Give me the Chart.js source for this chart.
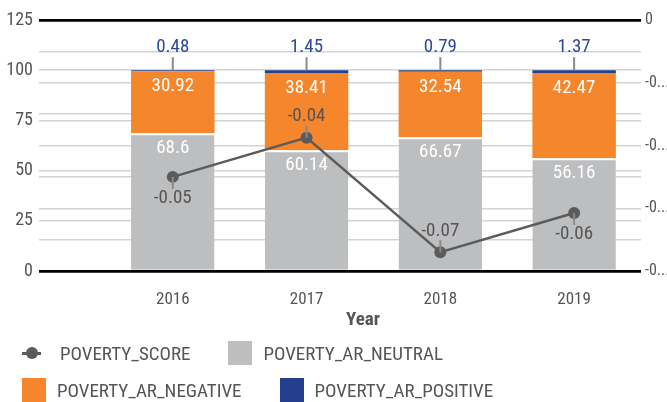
<!DOCTYPE html>
<html>
<head>
<meta charset="utf-8">
<script src="https://cdn.jsdelivr.net/npm/chart.js@4"></script>
<style>
  body { margin: 0; background: #fff; overflow: hidden; }
  #wrap { position: relative; width: 667px; height: 402px; }
  #legend {
    position: absolute; left: 22px; top: 341px; width: 620px;
    font-family: 'Liberation Sans Narrow', 'Roboto Condensed', 'Arial Narrow', Roboto, sans-serif;
    font-size: 19px; color: #555;
  }
  .row { display: flex; column-gap: 38px; height: 24px; margin-bottom: 13px; }
  .item { display: flex; align-items: center; height: 24px; }
  .box { width: 24px; height: 24px; margin-right: 11px; }
  .mark { position: relative; width: 19px; height: 24px; margin-right: 19px; }
  .mark:before { content: ''; position: absolute; left: 0; right: 0; top: 11px; height: 2.5px; background: #5b5b5b; }
  .mark:after { content: ''; position: absolute; left: 4px; top: 6px; width: 12px; height: 12px; border-radius: 50%; background: #5b5b5b; }
</style>
</head>
<body>
<div id="wrap">
  <canvas id="chart" width="667" height="402"></canvas>
  <div id="legend"></div>
</div>
<script>
// Données
const years = [2016, 2017, 2018, 2019];
const arNeutral = [68.6, 60.14, 66.67, 56.16];
const arNegative = [30.92, 38.41, 32.54, 42.47];
const arPositive = [0.48, 1.45, 0.79, 1.37];
const povertyScore = [-0.05, -0.0375, -0.074, -0.0615];

const FONT = "'Liberation Sans Narrow', 'Roboto Condensed', 'Arial Narrow', Roboto, sans-serif";
const TEXT = '#555555';
const GRID = '#d4d4d4';

Chart.defaults.font.family = FONT;
Chart.defaults.color = TEXT;

function pts(values) {
  return values.map((v, i) => ({ x: years[i], y: v }));
}

// Couleur de grille : noir aux bornes, gris clair sinon
function gridColor(ctx) {
  const s = ctx.scale;
  const v = ctx.tick.value;
  return (Math.abs(v - s.min) < 1e-9 || Math.abs(v - s.max) < 1e-9) ? '#000' : GRID;
}
function gridWidth(ctx) {
  return gridColor(ctx) === '#000' ? 2.5 : 1.5;
}

// Étiquettes de valeurs (sans plugin externe)
const valueLabels = {
  id: 'valueLabels',
  afterDatasetsDraw(chart, args, opts) {
    const ctx = chart.ctx;
    ctx.save();
    ctx.font = `19px ${FONT}`;
    ctx.textAlign = 'center';
    ctx.textBaseline = 'middle';
    ctx.lineWidth = 2;
    chart.data.datasets.forEach((ds, di) => {
      const meta = chart.getDatasetMeta(di);
      meta.data.forEach((el, i) => {
        const v = ds.data[i].y;
        if (ds.label === 'POVERTY_SCORE') {
          const dir = opts.scoreSide[i] === 'above' ? -1 : 1;
          ctx.strokeStyle = '#8a8a8a';
          ctx.beginPath();
          ctx.moveTo(el.x, el.y);
          ctx.lineTo(el.x, el.y + dir * 12);
          ctx.stroke();
          ctx.fillStyle = TEXT;
          ctx.fillText(v.toFixed(2), el.x, el.y + dir * 21);
        } else if (ds.label === 'POVERTY_AR_POSITIVE') {
          ctx.strokeStyle = '#8a8a8a';
          ctx.beginPath();
          ctx.moveTo(el.x, el.y);
          ctx.lineTo(el.x, el.y - 13);
          ctx.stroke();
          ctx.fillStyle = '#2c4a9c';
          ctx.fillText(String(v), el.x, el.y - 23);
        } else {
          ctx.fillStyle = '#ffffff';
          ctx.fillText(String(v), el.x, el.y + 15);
        }
      });
    });
    ctx.restore();
  }
};

// Titre de l'axe X
const xTitle = {
  id: 'xTitle',
  afterDraw(chart, args, opts) {
    const ctx = chart.ctx;
    ctx.save();
    ctx.font = `bold 19px ${FONT}`;
    ctx.fillStyle = TEXT;
    ctx.textAlign = 'center';
    ctx.textBaseline = 'middle';
    ctx.fillText(opts.text, opts.x, opts.y);
    ctx.restore();
  }
};

const chart = new Chart(document.getElementById('chart'), {
  type: 'bar',
  data: {
    datasets: [
      {
        type: 'line',
        label: 'POVERTY_SCORE',
        data: pts(povertyScore),
        yAxisID: 'y1',
        borderColor: '#5b5b5b',
        backgroundColor: '#5b5b5b',
        borderWidth: 2.5,
        pointRadius: 6,
        pointBackgroundColor: '#5b5b5b',
        pointBorderWidth: 0,
        order: 0
      },
      {
        label: 'POVERTY_AR_NEUTRAL',
        data: pts(arNeutral),
        backgroundColor: '#bdbec0',
        borderColor: '#ffffff',
        borderWidth: { top: 2 },
        borderSkipped: 'start',
        order: 1
      },
      {
        label: 'POVERTY_AR_NEGATIVE',
        data: pts(arNegative),
        backgroundColor: '#f5862b',
        borderWidth: 0,
        order: 1
      },
      {
        label: 'POVERTY_AR_POSITIVE',
        data: pts(arPositive),
        backgroundColor: '#233f8e',
        borderWidth: 0,
        order: 1
      }
    ]
  },
  options: {
    responsive: false,
    animation: false,
    layout: { padding: { top: 20, bottom: 67, left: 0, right: 0 } },
    datasets: { bar: { barPercentage: 0.78, categoryPercentage: 0.8 } },
    plugins: {
      legend: { display: false },
      tooltip: { enabled: false },
      valueLabels: { scoreSide: ['below', 'above', 'above', 'below'] },
      xTitle: { text: 'Year', x: 363, y: 320 }
    },
    scales: {
      x: {
        type: 'linear',
        stacked: true,
        offset: false,
        min: 2015,
        max: 2019.5,
        grid: { display: false },
        border: { display: false },
        ticks: { padding: 11, font: { size: 17 }, callback: v => String(v) },
        afterBuildTicks: s => { s.ticks = years.map(v => ({ value: v })); },
        afterFit: s => { s.height = 64; }
      },
      y: {
        stacked: true,
        min: 0,
        max: 125,
        ticks: { stepSize: 25, padding: 6, font: { size: 18 } },
        grid: { color: gridColor, lineWidth: gridWidth, drawTicks: false },
        border: { display: false },
        afterFit: s => { s.width = 39; }
      },
      y1: {
        position: 'right',
        min: -0.08,
        max: 0,
        ticks: {
          stepSize: 0.01,
          padding: 4,
          autoSkip: false,
          font: { size: 16 },
          callback: (v, i) => {
            if (Math.abs(v) < 1e-9) return '0';
            return i % 2 === 0 ? String(v).slice(0, 2) + '...' : '';
          }
        },
        grid: { color: gridColor, lineWidth: gridWidth, drawTicks: false },
        border: { display: false },
        afterFit: s => { s.width = 26; }
      }
    }
  },
  plugins: [valueLabels, xTitle]
});

// Légende HTML sur deux lignes
const legend = document.getElementById('legend');
let row;
chart.data.datasets.forEach((ds, i) => {
  if (i % 2 === 0) {
    row = document.createElement('div');
    row.className = 'row';
    legend.appendChild(row);
  }
  const item = document.createElement('div');
  item.className = 'item';
  const sw = document.createElement('span');
  if (ds.type === 'line') {
    sw.className = 'mark';
  } else {
    sw.className = 'box';
    sw.style.background = ds.backgroundColor;
  }
  const txt = document.createElement('span');
  txt.textContent = ds.label;
  item.appendChild(sw);
  item.appendChild(txt);
  row.appendChild(item);
});
</script>
</body>
</html>
